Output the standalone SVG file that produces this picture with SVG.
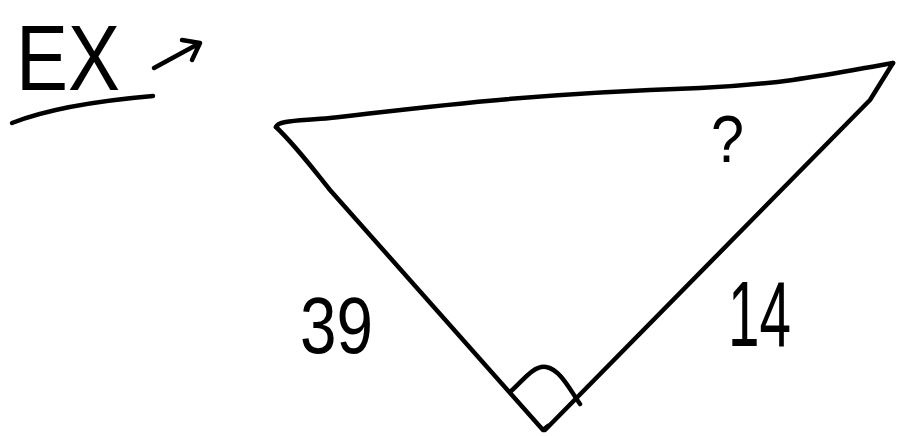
<svg xmlns="http://www.w3.org/2000/svg" width="899" height="436" viewBox="0 0 899 436">
<style>
.s{fill:none;stroke:#000;stroke-width:4.5;stroke-linecap:round;stroke-linejoin:round}
.t{font-family:"Liberation Sans",Arial,sans-serif;fill:#000}
</style>
<rect width="899" height="436" fill="#fff"/>
<g id="title">
<text class="t" x="16" y="90" font-size="92" textLength="104" lengthAdjust="spacingAndGlyphs">EX</text>
<path class="s" d="M12,123 Q60,104 153,96"/>
<path class="s" d="M154,68 L200,43 M182,40 L200,43 L192,60"/>
</g>
<g id="triangle">
<path class="s" d="M276,127 C278,120 300,121 330,118 C420,108 520,94 700,88 C790,84 840,72 893,63"/>
<path class="s" d="M893,63 L870,100 L545,430"/>
<path class="s" d="M276,127 C295,145 310,165 330,190 L543,430 L548,426"/>
<path class="s" d="M510,392 C522,382 533,365 546,367 C560,369 570,390 580,404"/>
</g>
<g id="labels">
<text class="t" x="711" y="162" font-size="66" textLength="33" lengthAdjust="spacingAndGlyphs">?</text>
<text class="t" x="300" y="353" font-size="80" textLength="73" lengthAdjust="spacingAndGlyphs">39</text>
<text class="t" x="728" y="346" font-size="92" textLength="63" lengthAdjust="spacingAndGlyphs">14</text>
</g>
</svg>
